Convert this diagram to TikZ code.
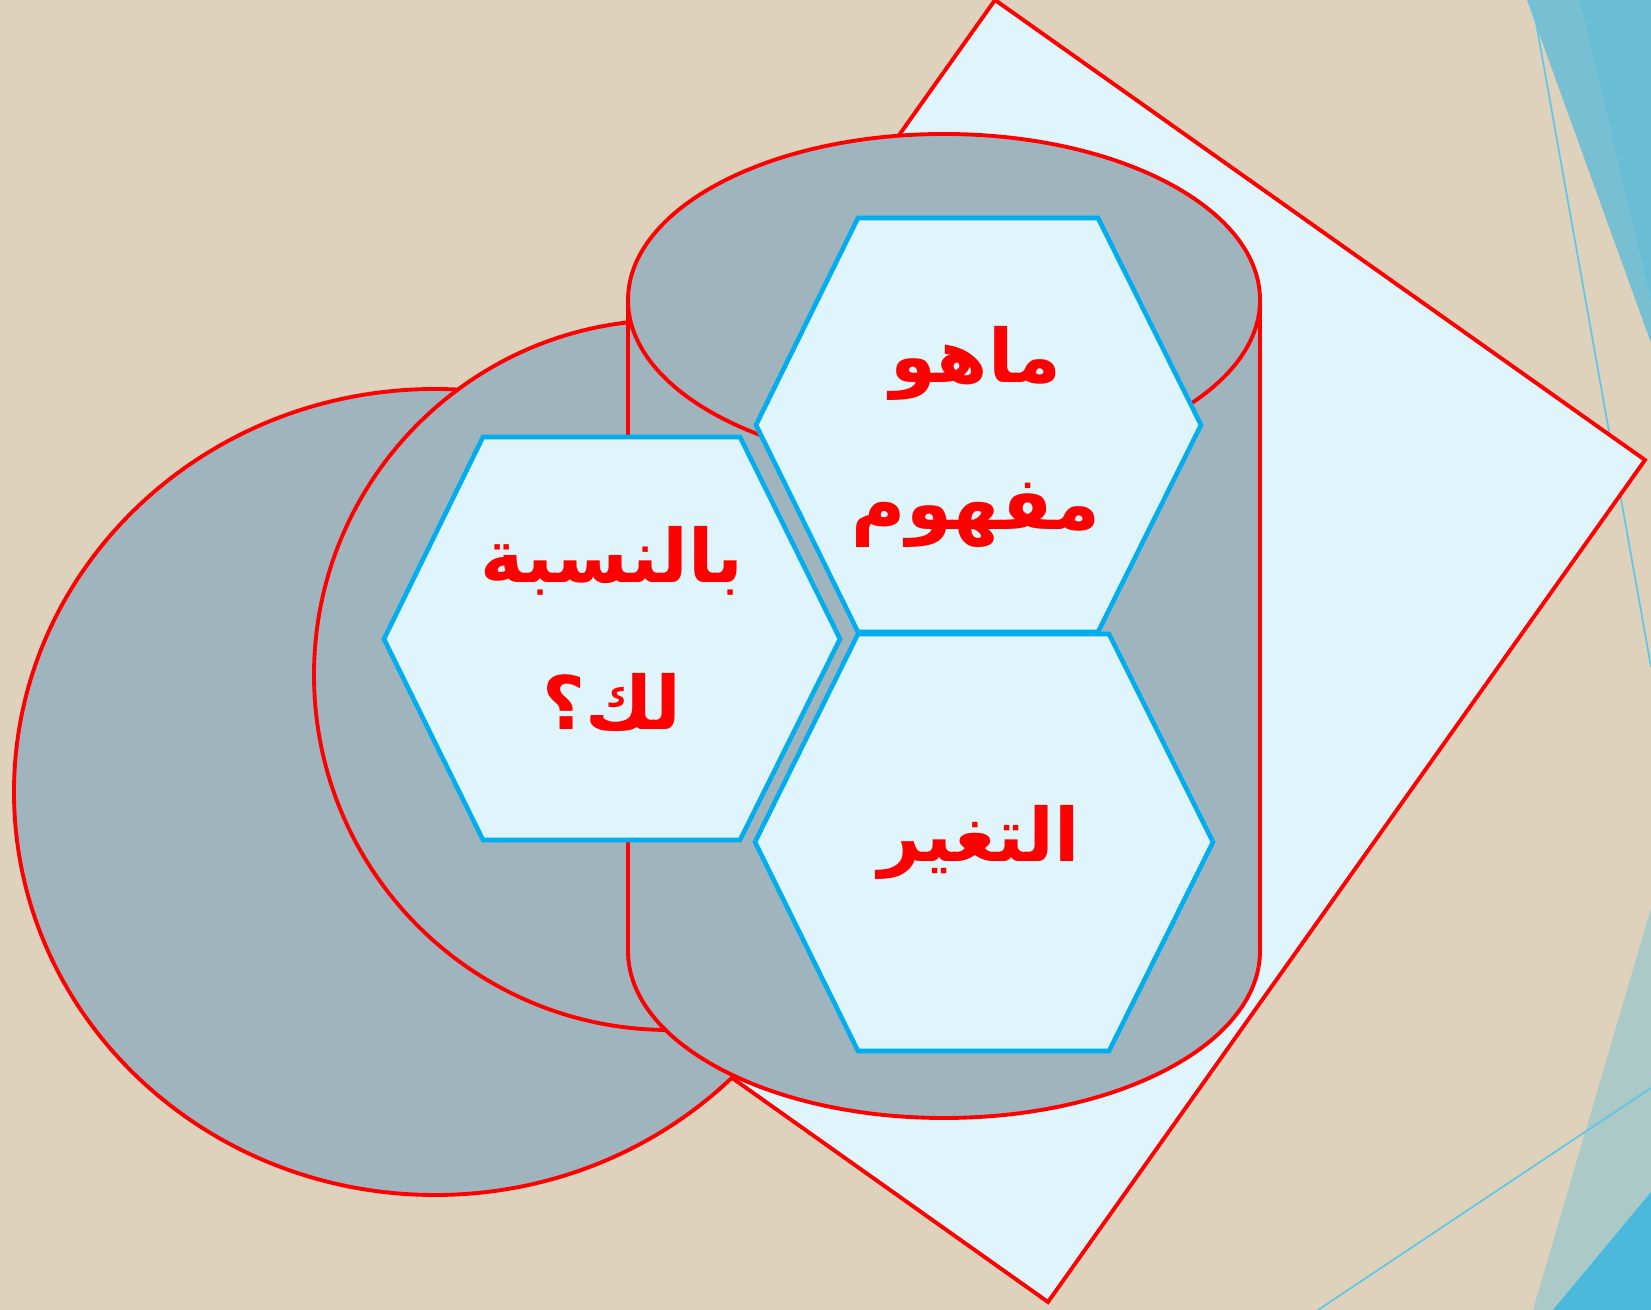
\documentclass[tikz,border=0pt]{standalone}
\usepackage{fontspec}
\newfontfamily\arabicfont[Script=Arabic]{DejaVu Sans}
\TeXXeTstate=1
\definecolor{bgBeige}{HTML}{DED2BC}
\definecolor{slateFill}{HTML}{A0B4BE}
\definecolor{paleFill}{HTML}{DFF4FB}
\definecolor{rimRed}{HTML}{FF0000}
\definecolor{hexCyan}{HTML}{00AEEF}
\definecolor{decoBlue}{HTML}{4BB9DC}
\definecolor{decoLine}{HTML}{62C6E6}

\begin{document}
\begin{tikzpicture}[x=0.01cm,y=-0.01cm,
  rim/.style={draw=rimRed,line width=1.1pt},
  hexa/.style={draw=hexCyan,fill=paleFill,line width=1.3pt,line join=miter},
  lbl/.style={text=rimRed,align=center,font=\arabicfont\bfseries\fontsize{21}{42}\selectfont}]
\fill[bgBeige] (0,0) rectangle (1651,1310);
\useasboundingbox (0,0) rectangle (1651,1310);
\fill[decoBlue,opacity=0.7] (1527,0) -- (1651,343) -- (1651,0) -- cycle;
\fill[decoBlue,opacity=0.3] (1580,0) -- (1651,300) -- (1651,0) -- cycle;
\fill[decoBlue,opacity=0.35] (1533,1310) -- (1651,908) -- (1651,1310) -- cycle;
\fill[decoBlue] (1553,1310) -- (1651,1192) -- (1651,1310) -- cycle;
\draw[decoLine,line width=0.5pt] (1532,0) -- (1651,667);
\draw[decoLine,line width=0.5pt] (1318,1310) -- (1651,1088);
\draw[rim,fill=paleFill] (995,0) -- (1645,460) -- (1048,1302) -- (398,841) -- cycle;
\draw[rim,fill=slateFill] (435,792) ellipse [x radius=421,y radius=403];
\draw[rim,fill=slateFill] (669,675) circle [radius=355];
\draw[rim,fill=slateFill] (628,300) -- (628,951) arc[start angle=180,end angle=0,x radius=316,y radius=167] -- (1260,300);
\draw[rim,fill=slateFill] (944,300) ellipse [x radius=316,y radius=166];
\draw[hexa] (858,218) -- (1098,218) -- (1201,425) -- (1098,632) -- (858,632) -- (756,425) -- cycle;
\draw[hexa] (858,634) -- (1109,634) -- (1213,842) -- (1109,1051) -- (858,1051) -- (755,842) -- cycle;
\draw[hexa] (483,437) -- (740,437) -- (840,639) -- (740,840) -- (483,840) -- (384,639) -- cycle;
\node[lbl] (topText) at (976,437) {\beginR ماهو\endR\\\beginR مفهوم\endR};
\node[lbl] (lowText) at (979,842) {\beginR التغير\endR};
\node[lbl] (leftText) at (612,629) {\beginR بالنسبة\endR\\\beginR لك؟\endR};
\end{tikzpicture}
\end{document}
